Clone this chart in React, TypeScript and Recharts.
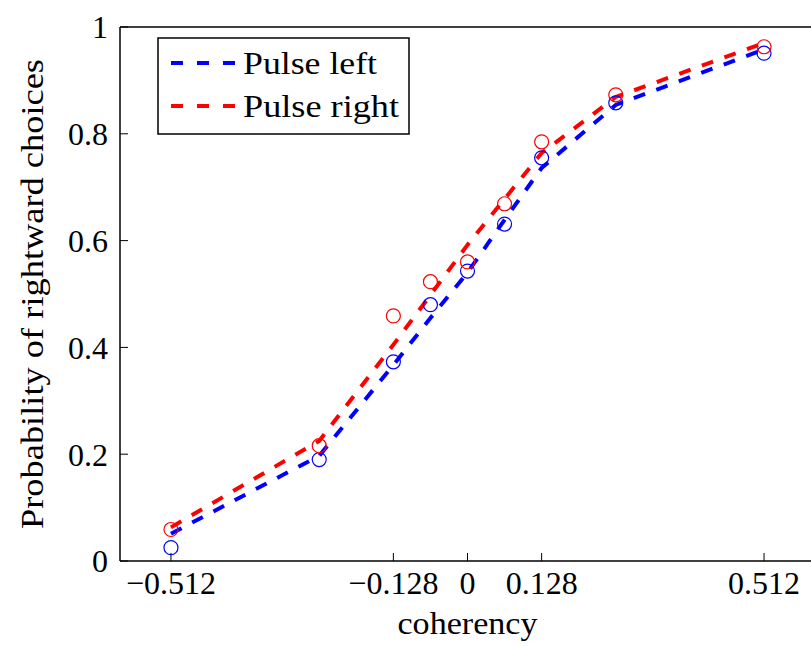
import React from "react";
import {
  ComposedChart,
  Line,
  Scatter,
  XAxis,
  YAxis,
  Legend,
} from "recharts";

// coherency levels (x)
const coherency = [-0.512, -0.256, -0.128, -0.064, 0, 0.064, 0.128, 0.256, 0.512];
// observed proportions (circles)
const leftObs = [0.025, 0.19, 0.373, 0.48, 0.543, 0.631, 0.755, 0.858, 0.951];
const rightObs = [0.059, 0.216, 0.459, 0.523, 0.56, 0.669, 0.785, 0.873, 0.963];
// fitted curves (dashed)
const leftFit = [0.051, 0.197, 0.367, 0.455, 0.54, 0.639, 0.736, 0.854, 0.958];
const rightFit = [0.063, 0.225, 0.405, 0.498, 0.592, 0.678, 0.764, 0.869, 0.97];

const xTicks = [-0.512, -0.128, 0, 0.128, 0.512];
const yTicks = [0, 0.2, 0.4, 0.6, 0.8, 1];

const seriesNames = ["Pulse left", "Pulse right"];
const seriesColors = ["#0000ff", "#ff0000"];

const data = coherency.map((c, i) => ({
  coh: c,
  leftObs: leftObs[i],
  rightObs: rightObs[i],
  leftFit: leftFit[i],
  rightFit: rightFit[i],
}));

const font = "Liberation Serif, Times New Roman, serif";

const fmtX = (v: number) => (v < 0 ? "\u2212" + Math.abs(v) : String(v));

const ring = (color: string) => (props: any) => {
  if (props.cx == null || props.cy == null) return <g />;
  return (
    <circle
      cx={props.cx}
      cy={props.cy}
      r={7}
      fill="none"
      stroke={color}
      strokeWidth={1.2}
    />
  );
};

const YLabel = (props: any) => {
  const vb = props.viewBox || {};
  const x = vb.x + 23;
  const y = vb.y + vb.height / 2;
  return (
    <text
      x={x}
      y={y}
      transform={`rotate(-90 ${x} ${y})`}
      textAnchor="middle"
      fontFamily={font}
      fontSize={32}
      textLength={470}
      lengthAdjust="spacingAndGlyphs"
      fill="#000"
    >
      Probability of rightward choices
    </text>
  );
};

const XLabel = (props: any) => {
  const vb = props.viewBox || {};
  const x = vb.x + vb.width / 2;
  return (
    <text
      x={x}
      y={634}
      textAnchor="middle"
      fontFamily={font}
      fontSize={32}
      textLength={140}
      lengthAdjust="spacingAndGlyphs"
      fill="#000"
    >
      coherency
    </text>
  );
};

const LegendBox = () => (
  <svg width={254} height={99}>
    <rect x={1} y={1} width={251} height={96} fill="#fff" stroke="#000" strokeWidth={1.5} />
    {seriesNames.map((name, i) => (
      <g key={name}>
        <line
          x1={14}
          x2={78}
          y1={26 + i * 43}
          y2={26 + i * 43}
          stroke={seriesColors[i]}
          strokeWidth={4}
          strokeDasharray="12 14"
        />
        <text
          x={86}
          y={37 + i * 43}
          fontFamily={font}
          fontSize={32}
          textLength={i === 0 ? 134 : 156}
          lengthAdjust="spacingAndGlyphs"
          fill="#000"
        >
          {name}
        </text>
      </g>
    ))}
  </svg>
);

export default function App() {
  return (
    <div
      style={{
        position: "absolute",
        left: 0,
        top: 0,
        width: 811,
        height: 646,
        overflow: "hidden",
        background: "#fff",
      }}
    >
      <ComposedChart
        width={830}
        height={646}
        data={data}
        margin={{ top: 26, right: 14, bottom: 45, left: 20 }}
      >
        <XAxis
          dataKey="coh"
          type="number"
          domain={[-0.6, 0.6]}
          ticks={xTicks}
          interval={0}
          tickFormatter={fmtX}
          tickSize={-8}
          tickMargin={18}
          height={40}
          axisLine={{ stroke: "#000", strokeWidth: 1.5 }}
          tickLine={{ stroke: "#000" }}
          tick={{ fontSize: 32, fill: "#000", fontFamily: font }}
          label={<XLabel />}
        />
        <XAxis
          xAxisId="top"
          orientation="top"
          dataKey="coh"
          type="number"
          domain={[-0.6, 0.6]}
          ticks={xTicks}
          interval={0}
          tick={false}
          tickSize={-8}
          height={1}
          axisLine={{ stroke: "#000", strokeWidth: 1.5 }}
          tickLine={{ stroke: "#000" }}
        />
        <YAxis
          type="number"
          domain={[0, 1]}
          ticks={yTicks}
          interval={0}
          tickSize={-8}
          tickMargin={20}
          width={100}
          axisLine={{ stroke: "#000", strokeWidth: 1.5 }}
          tickLine={{ stroke: "#000" }}
          tick={{ fontSize: 32, fill: "#000", fontFamily: font }}
          label={<YLabel />}
        />
        <YAxis
          yAxisId="right"
          orientation="right"
          type="number"
          domain={[0, 1]}
          ticks={yTicks}
          interval={0}
          tick={false}
          tickSize={-8}
          width={1}
          axisLine={{ stroke: "#000", strokeWidth: 1.5 }}
          tickLine={{ stroke: "#000" }}
        />
        <Scatter
          dataKey="leftObs"
          shape={ring(seriesColors[0])}
          isAnimationActive={false}
          legendType="none"
        />
        <Scatter
          dataKey="rightObs"
          shape={ring(seriesColors[1])}
          isAnimationActive={false}
          legendType="none"
        />
        <Line
          type="linear"
          dataKey="leftFit"
          stroke={seriesColors[0]}
          strokeWidth={4}
          strokeDasharray="12 12"
          dot={false}
          activeDot={false}
          isAnimationActive={false}
        />
        <Line
          type="linear"
          dataKey="rightFit"
          stroke={seriesColors[1]}
          strokeWidth={4}
          strokeDasharray="12 12"
          dot={false}
          activeDot={false}
          isAnimationActive={false}
        />
        <Legend
          layout="vertical"
          align="center"
          verticalAlign="middle"
          content={<LegendBox />}
          wrapperStyle={{ left: 157, top: 37, width: 254, height: 99 }}
        />
      </ComposedChart>
    </div>
  );
}
